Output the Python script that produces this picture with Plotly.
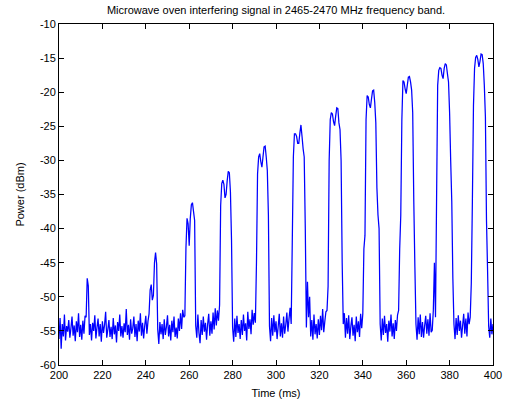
import plotly.graph_objects as go

start_ms = 200.0
step_ms = 0.5
power_dbm = [
    # 200 - 204.5
    -56.2, -53.1, -57.6, -54.0, -55.8, -52.6, -56.4, -54.3, -55.1, -53.4,
    # 205
    -56.0, -54.6, -52.9, -55.7, -54.2, -56.5, -53.6, -55.2, -52.4, -55.9,
    # 210
    -54.1, -56.3, -53.5, -55.4, -52.8, -53.0, -47.3, -48.4, -55.6, -54.0,
    # 215
    -56.4, -53.8, -55.0, -52.7, -56.1, -54.5, -53.2, -55.8, -54.0, -56.6,
    # 220
    -53.6, -55.3, -54.1, -52.2, -56.0, -54.8, -53.4, -55.9, -54.4, -56.2,
    # 225
    -53.1, -55.5, -54.2, -56.7, -53.7, -55.0, -52.6, -55.8, -54.3, -56.0,
    # 230
    -53.9, -55.2, -51.8, -55.6, -54.1, -56.3, -53.3, -55.4, -54.6, -52.9,
    # 235
    -55.9, -54.0, -56.5, -53.5, -55.1, -52.4, -55.7, -53.8, -56.1, -54.2,
    # 240
    -52.8, -55.4, -53.6, -52.5, -49.0, -48.2, -50.5, -49.8, -45.0, -43.5,
    # 245
    -45.2, -54.8, -56.9, -53.7, -55.5, -54.0, -56.2, -53.3, -55.6, -54.4,
    # 250
    -52.7, -55.8, -54.1, -56.4, -53.5, -55.2, -52.9, -55.9, -54.5, -56.1,
    # 255
    -53.2, -55.0, -52.4, -54.7, -51.9, -53.0, -52.8, -42.9, -38.5, -39.3,
    # 260
    -42.5, -38.5, -36.5, -36.2, -37.5, -38.8, -54.2, -56.0, -52.6, -55.3,
    # 265
    -56.8, -53.4, -55.6, -52.9, -55.1, -53.8, -56.3, -54.0, -52.5, -55.7,
    # 270
    -53.6, -55.4, -52.3, -54.8, -51.7, -54.2, -52.0, -53.5, -51.2, -36.6,
    # 275
    -33.4, -32.9, -33.5, -35.5, -35.0, -33.0, -31.6, -31.8, -34.6, -41.7,
    # 280
    -54.5, -56.6, -53.2, -55.9, -52.8, -55.3, -54.0, -56.2, -53.4, -55.6,
    # 285
    -52.6, -55.0, -53.9, -56.4, -52.2, -54.7, -53.3, -55.5, -51.9, -54.1,
    # 290
    -52.4, -53.8, -45.0, -32.0, -29.5, -29.0, -30.2, -31.0, -29.5, -28.0,
    # 295
    -27.9, -29.5, -31.5, -38.0, -54.3, -56.5, -53.1, -55.7, -52.7, -55.2,
    # 300
    -53.6, -56.2, -54.4, -52.5, -55.8, -53.9, -56.0, -52.9, -55.4, -54.1,
    # 305
    -52.3, -55.1, -53.2, -51.6, -54.0, -42.0, -29.5, -26.1, -26.1, -26.5,
    # 310
    -27.5, -27.5, -26.0, -24.8, -26.5, -28.3, -29.5, -40.0, -54.5, -47.8,
    # 315
    -53.0, -50.0, -55.8, -53.4, -56.3, -52.6, -55.5, -54.0, -56.1, -53.3,
    # 320
    -55.6, -52.8, -54.9, -51.8, -55.2, -53.6, -52.2, -52.0, -48.5, -30.0,
    # 325
    -24.0, -23.0, -23.2, -24.3, -24.9, -23.5, -22.3, -22.4, -24.5, -25.5,
    # 330
    -30.0, -45.0, -54.0, -52.4, -56.0, -53.1, -55.4, -52.7, -56.2, -54.3,
    # 335
    -53.0, -55.7, -54.1, -56.5, -52.9, -55.2, -53.6, -55.9, -52.5, -54.6,
    # 340
    -52.5, -43.0, -41.0, -24.0, -20.5, -20.7, -21.8, -22.3, -21.0, -19.8,
    # 345
    -19.7, -21.5, -24.5, -34.0, -38.0, -40.0, -54.0, -56.4, -53.2, -55.6,
    # 350
    -52.8, -55.3, -54.0, -56.6, -53.5, -55.1, -52.6, -55.8, -53.9, -56.2,
    # 355
    -53.4, -55.0, -52.7, -52.0, -43.0, -38.0, -24.0, -18.3, -18.5, -19.5,
    # 360
    -20.2, -19.0, -17.8, -17.7, -18.5, -19.7, -23.0, -36.0, -45.6, -54.0,
    # 365
    -56.3, -53.0, -55.5, -52.6, -55.9, -53.7, -56.0, -54.2, -52.8, -55.4,
    # 370
    -53.3, -55.7, -52.4, -55.2, -54.9, -52.0, -45.0, -53.0, -35.6, -19.0,
    # 375
    -16.8, -16.4, -16.5, -17.5, -18.0, -16.5, -15.8, -16.0, -17.3, -18.5,
    # 380
    -23.0, -30.0, -36.0, -47.3, -54.0, -56.2, -53.1, -55.6, -52.7, -55.0,
    # 385
    -53.5, -56.0, -54.2, -52.5, -55.4, -53.2, -55.8, -52.3, -54.0, -53.0,
    # 390
    -48.0, -36.0, -22.0, -16.5, -14.9, -14.6, -15.2, -16.3, -15.5, -14.4,
    # 395
    -14.5, -15.8, -19.0, -23.6, -38.8, -46.1, -54.3, -56.0, -53.2, -55.5,
    # 400
    -54.0,
]
time_ms = [start_ms + step_ms * i for i in range(len(power_dbm))]

x_ticks = [200, 220, 240, 260, 280, 300, 320, 340, 360, 380, 400]
y_ticks = [-60, -55, -50, -45, -40, -35, -30, -25, -20, -15, -10]

font_family = "Liberation Sans, Arial, Helvetica, sans-serif"

fig = go.Figure()
fig.add_trace(go.Scatter(
    x=time_ms, y=power_dbm, mode="lines",
    line=dict(color="#0000FF", width=1.25, simplify=False),
    showlegend=False, hoverinfo="skip",
))

axis_common = dict(
    showline=True, linecolor="black", linewidth=1, mirror="ticks",
    ticks="inside", ticklen=5, tickwidth=1, tickcolor="black",
    showgrid=False, zeroline=False, automargin=False,
    tickfont=dict(family=font_family, size=11, color="black"),
)

fig.update_layout(
    width=507, height=404,
    margin=dict(l=59, r=14, t=24, b=39, autoexpand=False),
    paper_bgcolor="white", plot_bgcolor="white",
    font=dict(family=font_family, size=11, color="black"),
    title=dict(
        text="Microwave oven interfering signal in 2465-2470 MHz frequency band.",
        x=0.5, xref="paper", xanchor="center",
        y=1 - 10 / 404, yref="container", yanchor="middle",
        font=dict(family=font_family, size=11, color="black"),
    ),
    xaxis=dict(range=[200, 400], tickvals=x_ticks,
               ticktext=[str(v) for v in x_ticks],
               title=dict(text="Time (ms)", standoff=9,
                          font=dict(family=font_family, size=11, color="black")),
               **axis_common),
    yaxis=dict(range=[-60, -10], tickvals=y_ticks,
               ticktext=[str(v) for v in y_ticks],
               title=dict(text="Power (dBm)", standoff=13,
                          font=dict(family=font_family, size=11, color="black")),
               **axis_common),
)

fig.write_html(
    "out.html",
    config={"displayModeBar": False},
    post_script="document.body.style.margin='0';document.body.style.overflow='hidden';",
)
